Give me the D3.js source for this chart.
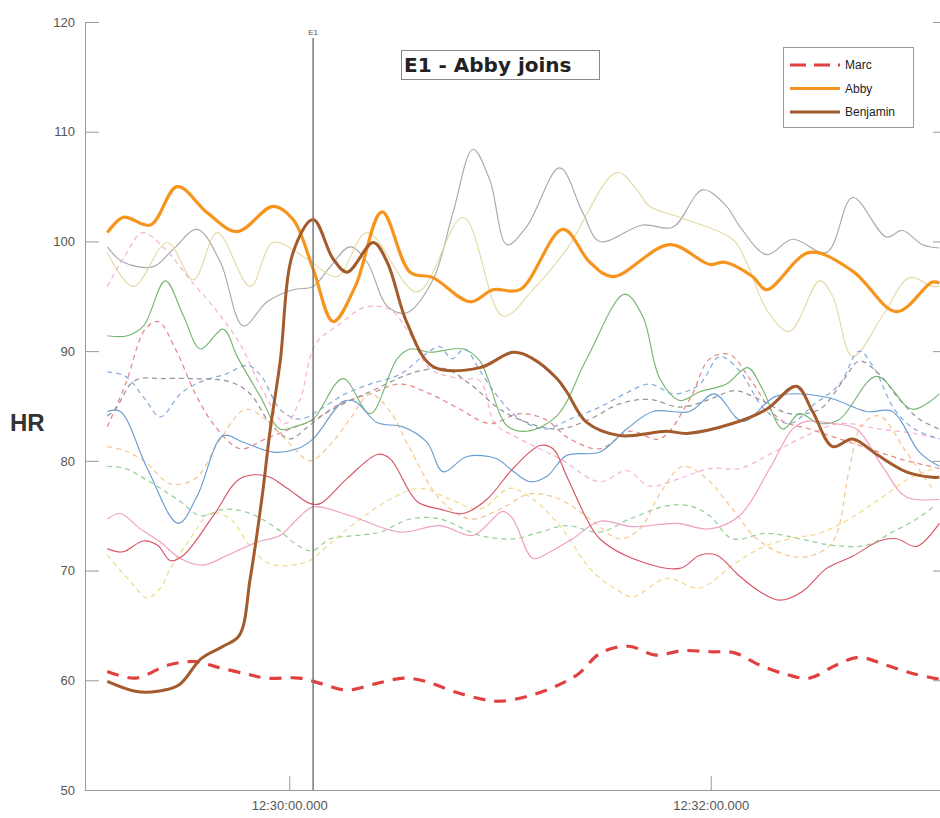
<!DOCTYPE html>
<html><head><meta charset="utf-8">
<script src="https://cdn.jsdelivr.net/npm/d3@7"></script>
<style>body{margin:0;background:#fff}svg{display:block}</style>
</head><body>
<svg id="chart" width="940" height="818"></svg>
<script>
// ---- data: [seconds after 12:29:00, heart rate] ----
const yTicks = [50, 60, 70, 80, 90, 100, 110, 120];
const xTickSeconds = [60, 180];
const eventSecond = 66.8;
const eventLabel = "E1";
const titleText = "E1 - Abby joins";
const legendNames = ["Marc", "Abby", "Benjamin"];

const marc = [[8.2,60.8],[16.2,60.2],[25.6,61.4],[33.3,61.7],[39.5,61.2],[47.5,60.6],[53.5,60.2],[62.8,60.2],[69.1,59.7],[76.2,59.1],[84.7,59.7],[92.7,60.2],[98.9,59.9],[106.6,59.0],[116,58.2],[120.6,58.1],[128.5,58.6],[136.2,59.5],[142.4,60.6],[148.7,62.5],[156.7,63.1],[164.3,62.3],[172,62.7],[180,62.6],[186.8,62.5],[193.9,61.4],[201.9,60.5],[208.1,60.2],[215.8,61.4],[222.1,62.1],[229.7,61.4],[237.7,60.6],[245.1,60.1]];
const abby = [[8.2,100.8],[12.8,102.2],[20.5,101.5],[28.1,105.0],[36.7,102.6],[45.2,100.9],[55.4,103.2],[61.1,102.0],[66.8,97.5],[72.5,92.7],[78.8,95.9],[86.4,102.7],[94.4,97.2],[100.9,96.7],[111.5,94.5],[118,95.6],[125.7,95.6],[137.9,101.1],[145.6,98.1],[152.1,96.8],[168.3,99.7],[179.7,97.9],[184,98.1],[191.9,96.8],[195.9,95.6],[208.1,99.0],[220.4,97.3],[232.9,93.6],[243.1,96.3],[245.1,96.2]];
const benjamin = [[8.2,59.9],[16.2,59.0],[22.5,59.0],[28.7,59.6],[35,62.0],[41.2,63.1],[45.8,64.1],[48.9,69.3],[52.3,76.8],[54.6,82.9],[57.4,89.0],[61.1,99.0],[66.8,102.0],[72.5,98.4],[76.5,97.2],[83.9,99.9],[87.9,98.1],[93.5,92.6],[100.9,88.6],[114.3,88.5],[123.7,89.9],[129.4,89.3],[136.2,87.5],[139,86.3],[144.7,83.5],[154.1,82.3],[167.5,82.7],[173.2,82.5],[186.2,83.4],[195.9,84.7],[204.4,86.8],[209,84.5],[214.7,81.3],[220.4,82.0],[227.2,80.6],[235.7,79.0],[243.1,78.5],[245.1,78.5]];

const graySolid = [[8.2,99.5],[12.8,98.1],[21.3,97.7],[27,99.3],[33.8,101.1],[40.4,98.1],[46.9,92.3],[53.7,94.5],[61.1,95.6],[66.8,95.9],[71.7,97.7],[77.3,99.5],[82.2,98.1],[87.9,94.1],[93.5,93.5],[100.9,96.5],[106.6,102.6],[112.3,108.4],[117.1,105.6],[122,99.7],[127.7,101.4],[137,106.7],[143.6,102.6],[148.4,100],[160.6,101.5],[169.2,101.3],[177.7,104.7],[184.5,103.2],[188.2,101.4],[195.9,98.8],[203.3,100.2],[213,99],[220.4,104],[230,100.4],[234.6,101],[240.3,99.7],[245.1,99.4]];
const khakiSolid = [[8.2,99],[15.6,95.9],[25.3,99.9],[32.7,96.5],[39.5,100.8],[48.9,95.9],[55.4,99.9],[65.1,98.4],[73.6,96.8],[82.2,100.8],[96.4,95.4],[109.5,102.2],[120.8,93.2],[129.4,95.6],[139,99.3],[153.3,106.3],[159,104.7],[162.6,103.2],[171.2,102.2],[186.2,100.2],[190.2,98.1],[195.9,93.8],[202.4,91.8],[211,96.4],[214.7,95],[220.4,89.5],[228.9,93.2],[236.6,96.7],[243.1,95.9],[245.1,95.9]];
const greenSolid = [[8.2,91.4],[13.9,91.4],[18.5,92.3],[24.7,96.4],[29.9,93.2],[34.7,90.2],[41.2,92],[45.2,89.5],[51.7,85.9],[57.4,82.9],[62.3,83.2],[66.8,83.8],[75.3,87.5],[83,84.3],[90.7,89.3],[94.4,90.2],[100.1,89.9],[109.5,90.2],[114.3,89.1],[122,83.2],[127.7,82.7],[136.2,84.1],[144.7,89.3],[155.5,95.2],[160.6,93.2],[165.5,87.5],[171.2,85.5],[176.9,86.3],[184.5,87],[190.5,88.5],[194.8,86.5],[200.5,82.9],[205.3,84.3],[211,83.4],[216.7,83.8],[227.2,87.7],[237.4,84.7],[245.1,86.1]];
const blueSolid = [[8.2,84.5],[11.9,84.5],[19.6,79.3],[28.4,74.3],[33.8,76.8],[41.2,82.3],[46.9,81.7],[55.4,80.8],[62.3,81.1],[66.8,82],[75.3,85.4],[78.8,85.4],[85,83.5],[92.4,83.1],[99.2,81.7],[103.8,79],[110.6,80.4],[119.1,80.2],[122.8,79.3],[128.5,78.1],[133.4,78.6],[139,80.5],[148.4,80.8],[156.1,82.9],[163.5,84.5],[174,84.5],[181.1,86.1],[189.1,83.6],[198.7,85.9],[213,85.8],[224.3,84.5],[231.7,84.5],[239.4,80.8],[245.1,79.5]];
const crimsonSolid = [[8.2,72],[12.5,71.7],[18.5,72.7],[22.5,72.3],[26.2,70.9],[29.9,71.4],[38.4,75],[46.1,78.4],[53.7,78.6],[59.4,77.5],[66,76.1],[68.8,76.1],[76.5,78.4],[85.3,80.6],[88.7,80.2],[96.4,76.3],[102.9,75.6],[109.5,75.2],[116.3,76.5],[123.7,79.3],[131.4,81.4],[135.1,81.1],[139,78.6],[144.7,74.7],[148.4,72.9],[157.8,71.1],[171.2,70.2],[176.9,71.4],[181.7,71.4],[188.2,69.5],[193.9,68.1],[199.6,67.3],[206.1,68.1],[213,70.2],[220.4,71.3],[228,72.7],[232.9,72.9],[238.6,72.2],[245.1,74.3]];
const pinkSolid = [[8.2,74.7],[11.9,75.2],[17.6,73.8],[23.3,72.6],[29,71.1],[35.5,70.5],[42.4,71.4],[50.9,72.6],[57.4,73.2],[62.3,74.7],[66.8,75.8],[77.3,75],[91.6,73.5],[102.9,74.1],[112.3,73.2],[120.8,75.4],[123.7,74.7],[129.4,71.1],[134.2,71.7],[140.7,72.9],[148.4,74.5],[157.8,74],[170.3,74.3],[179.7,73.8],[188.2,75],[196.8,79.3],[203.3,82.9],[207.3,83.6],[214.7,83.4],[221.5,82.9],[228.9,79.5],[235.7,76.7],[245.1,76.5]];

const pinkDash = [[8.2,95.9],[13.4,98.8],[18.2,100.8],[24.7,99.3],[31.8,96.5],[39,93.8],[46.1,90.6],[52.3,86.5],[58.9,83.4],[63.1,85.6],[67.4,90.6],[74.5,92.5],[81.6,94],[88.7,93.8],[94.4,91.5],[100.1,88.4],[108.6,87.5],[114.3,87.3],[118.6,83.4],[125.7,82],[137,80.2],[148.4,78.1],[156.1,79.1],[162.6,77.7],[171.2,78.4],[179.7,79.3],[188.2,79.3],[196.8,80.6],[205.3,82],[216.7,83.4],[228,82.9],[238,82.5],[245.1,82]];
const redDash = [[8.2,83.1],[13.4,87.0],[19,92.0],[22.7,92.7],[27.6,90.2],[33.3,86.1],[39,83.1],[46.1,81.1],[53.2,82.0],[60.3,82.9],[67.4,83.8],[74.5,85.2],[83,86.1],[91.6,87.0],[100.1,86.1],[108.6,84.7],[117.1,83.4],[125.7,84.3],[132.8,83.8],[139.9,82.0],[148.4,81.1],[157,82.7],[165.5,82.0],[174,85.6],[179.7,89.3],[185.4,89.7],[191.1,87.5],[199.6,83.8],[208.1,82.9],[216.7,82.0],[225.2,81.1],[233.7,80.2],[245.1,79.3]];
const blueDash = [[8.2,88.1],[13.4,87.7],[19,85.6],[23.3,84.0],[29,86.1],[34.7,87.2],[41.8,87.9],[48.3,88.7],[52.3,87.6],[57.4,84.7],[63.1,83.8],[68.8,84.7],[75.9,86.1],[83,87.0],[91.6,87.9],[98.7,89.7],[102.9,90.4],[106.3,89.3],[110,90.2],[114.3,88.2],[120,85.6],[125.7,83.8],[132.8,82.9],[139.9,83.8],[148.4,84.9],[155.5,86.1],[162.6,87.0],[169.7,86.1],[176.9,87.0],[182.5,89.5],[188.2,88.2],[195.3,84.7],[202.4,83.4],[209.6,85.2],[216.7,87.0],[222.3,90.0],[226.6,88.4],[232.3,84.7],[238,82.9],[245.1,82.0]];
const grayDash = [[8.2,84.1],[10.5,84.7],[14.8,87.0],[17.6,87.5],[23.3,87.5],[31.8,87.5],[43.2,87.2],[48.9,86.1],[54.6,83.4],[60.3,82.0],[64.5,82.9],[70.2,84.3],[77.3,85.5],[84.4,86.5],[91.6,87.6],[97.2,88.2],[104.3,88.4],[111.5,87.0],[120,84.7],[128.5,83.4],[137,82.9],[145.6,83.8],[154.1,85.2],[162.6,85.6],[171.2,84.9],[179.7,85.6],[186.8,86.4],[193.9,85.6],[202.4,84.3],[211,84.7],[218.1,87.5],[222.3,89.1],[228,87.9],[233.7,85.6],[239.4,83.8],[245.1,82.9]];
const orangeDash = [[8.2,81.3],[13.4,80.9],[19,79.9],[26.2,77.9],[33.3,78.4],[40.4,82.0],[47.5,84.7],[53.2,83.8],[60.3,81.5],[66,80.0],[71.7,81.5],[77.3,83.8],[83,86.1],[88.7,84.5],[94.4,81.1],[102.9,76.5],[111.5,74.7],[120,75.6],[128.5,77.0],[137,76.5],[145.6,74.7],[154.1,72.9],[159.8,73.8],[165.5,77.0],[172,79.5],[178.8,78.4],[186.2,75.6],[193.1,72.9],[201.6,71.4],[208.1,71.3],[214.7,72.6],[219.5,79.3],[222.9,83.2],[228,84.1],[235.7,80.8],[243.7,77.2]];
const greenDash = [[8.2,79.5],[13.4,79.3],[17.6,78.6],[23.3,77.5],[29,76.3],[34.7,75.0],[41.8,75.6],[48.9,75.2],[56.6,73.8],[62.3,72.3],[66.5,71.8],[71.7,72.9],[79.3,73.2],[85.9,73.5],[94.4,74.7],[102.9,74.7],[114.3,73.2],[123.7,72.9],[131.4,73.5],[139,74.1],[148.4,73.5],[157,74.7],[167.5,75.9],[174,75.9],[179.7,75.0],[186.2,72.9],[195.9,73.4],[205.3,72.9],[214.7,72.3],[224.3,72.3],[231.7,73.5],[238.6,74.7],[243.7,75.9]];
const yellowDash = [[8.2,71.4],[14.8,69.0],[19.6,67.5],[23.3,68.4],[26.2,70.2],[31.8,72.9],[37.5,75.2],[43.2,74.7],[48.9,72.2],[54.6,70.6],[65.1,70.8],[71.7,72.5],[80.2,74.7],[88.7,76.5],[97.2,77.5],[105.8,76.5],[114.3,75.6],[122.8,77.5],[129.4,76.5],[137,74.1],[146.4,69.9],[154.1,68.1],[157.8,67.6],[167.5,69.3],[176.9,68.4],[186.2,70.5],[193.9,72.0],[202.4,72.9],[211,73.4],[219.5,74.7],[228,76.5],[236.6,78.4],[243.7,79.3]];

// ---- series table built from the arrays ----
const faint = [
  {d: graySolid,   c: "#aaaaaa", dash: null},
  {d: khakiSolid,  c: "#e6d9a4", dash: null},
  {d: pinkDash,    c: "#f5b3d2", dash: "5,4"},
  {d: redDash,     c: "#e48a8a", dash: "5,4"},
  {d: blueDash,    c: "#86acdb", dash: "5,4"},
  {d: grayDash,    c: "#959595", dash: "5,4"},
  {d: orangeDash,  c: "#f6c592", dash: "5,4"},
  {d: greenDash,   c: "#96cf96", dash: "5,4"},
  {d: yellowDash,  c: "#f2d98c", dash: "5,4"},
  {d: greenSolid,  c: "#78b674", dash: null},
  {d: blueSolid,   c: "#6a9dd2", dash: null},
  {d: pinkSolid,   c: "#f09dbf", dash: null},
  {d: crimsonSolid,c: "#d85463", dash: null}
];
const main = [
  {name: legendNames[0], d: marc,     c: "#e0403f", dash: "12,9", w: 3.2},
  {name: legendNames[1], d: abby,     c: "#f7941d", dash: null,   w: 3.2},
  {name: legendNames[2], d: benjamin, c: "#a35a2c", dash: null,   w: 3.0}
];

const base = new Date(2020, 0, 1, 12, 29, 0).getTime();
const sec = s => new Date(base + s * 1000);

const svg = d3.select("#chart");
const L = 85, R = 945, T = 22, B = 790;
const x = d3.scaleTime().domain([sec(1.85), sec(246.7)]).range([L, R]);
const y = d3.scaleLinear().domain([50, 120]).range([B, T]);

svg.append("defs").append("clipPath").attr("id", "clip")
  .append("rect").attr("x", L).attr("y", T).attr("width", R - L).attr("height", B - T);

const line = d3.line().x(d => x(sec(d[0]))).y(d => y(d[1])).curve(d3.curveCatmullRom.alpha(0.5));
const plot = svg.append("g").attr("clip-path", "url(#clip)");

plot.selectAll("path.faint").data(faint).join("path").attr("class", "faint")
  .attr("d", s => line(s.d)).attr("fill", "none").attr("stroke", s => s.c)
  .attr("stroke-width", s => s.dash ? 1.25 : 1.15).attr("stroke-dasharray", s => s.dash);

plot.selectAll("path.main").data(main).join("path").attr("class", "main")
  .attr("d", s => line(s.d)).attr("fill", "none").attr("stroke", s => s.c)
  .attr("stroke-width", s => s.w).attr("stroke-dasharray", s => s.dash)
  .attr("stroke-linejoin", "round");

// axes
const font = "'Liberation Sans', Arial, sans-serif";
function styleAxis(g) {
  g.selectAll("path.domain").attr("stroke", "#999");
  g.selectAll(".tick line").attr("stroke", "#999");
  g.selectAll(".tick text").attr("fill", "#555").style("font-family", font).style("font-size", "13px");
}
svg.append("g").attr("transform", `translate(${L},0)`)
  .call(d3.axisLeft(y).tickValues(yTicks).tickSizeInner(-14).tickSizeOuter(0).tickPadding(10))
  .call(styleAxis);
svg.append("g").attr("transform", `translate(${R},0)`)
  .call(d3.axisRight(y).tickValues(yTicks).tickSizeInner(-12).tickSizeOuter(0).tickFormat(""))
  .call(styleAxis);
svg.append("g").attr("transform", `translate(0,${B})`)
  .call(d3.axisBottom(x).tickValues(xTickSeconds.map(sec)).tickFormat(d3.timeFormat("%H:%M:%S.%L"))
    .tickSizeInner(-14).tickSizeOuter(0).tickPadding(11))
  .call(styleAxis);

svg.append("text").attr("x", 10).attr("y", 431).text("HR")
  .style("font-family", font).style("font-weight", "bold").style("font-size", "24px").attr("fill", "#333");

// event line
const ex = x(sec(eventSecond));
svg.append("line").attr("x1", ex).attr("x2", ex).attr("y1", 38).attr("y2", B)
  .attr("stroke", "#777").attr("stroke-width", 1.5);
svg.append("text").attr("x", ex).attr("y", 35).attr("text-anchor", "middle").text(eventLabel)
  .style("font-family", font).style("font-size", "8px").attr("fill", "#555");

// title box
svg.append("rect").attr("x", 401.5).attr("y", 50.5).attr("width", 198).attr("height", 29)
  .attr("fill", "#fff").attr("stroke", "#888");
svg.append("text").attr("x", 404).attr("y", 72).text(titleText)
  .style("font-family", "'DejaVu Sans', Verdana, sans-serif").style("font-weight", "bold")
  .style("font-size", "20px").attr("fill", "#222");

// legend
const lg = svg.append("g");
lg.append("rect").attr("x", 783.5).attr("y", 47.5).attr("width", 130).attr("height", 80)
  .attr("fill", "#fff").attr("stroke", "#999");
const rows = lg.selectAll("g.row").data(main).join("g").attr("class", "row")
  .attr("transform", (d, i) => `translate(0,${65 + i * 23.5})`);
rows.append("line").attr("x1", 790).attr("x2", 840).attr("y1", 0).attr("y2", 0)
  .attr("stroke", d => d.c).attr("stroke-width", d => d.w).attr("stroke-dasharray", d => d.dash ? "16,8" : null);
rows.append("text").attr("x", 845).attr("y", 4).text(d => d.name)
  .style("font-family", font).style("font-size", "12px").attr("fill", "#222");
</script>
</body></html>
